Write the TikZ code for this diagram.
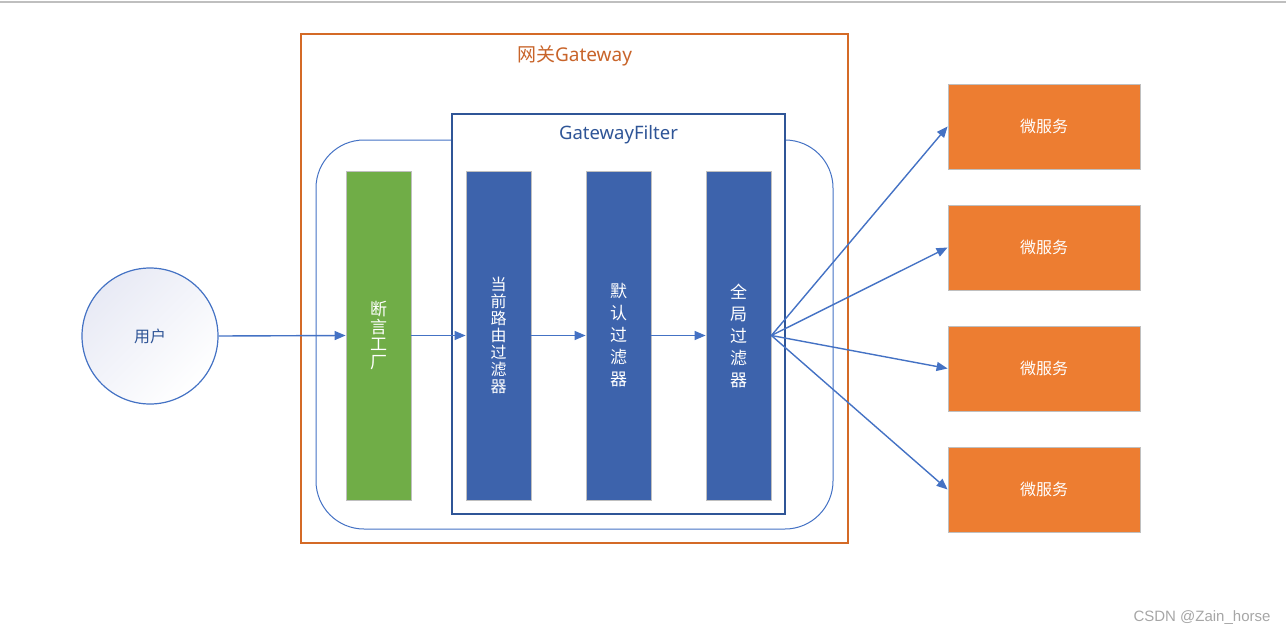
\documentclass[tikz,border=0pt]{standalone}
\usepackage{fontspec}
\setmainfont{Noto Sans}
\newfontfamily\cjk{Noto Sans CJK SC}
\newfontfamily\wmfont{Liberation Sans}
\usetikzlibrary{arrows.meta}
\definecolor{arrowblue}{HTML}{4472C4}
\definecolor{darkblue}{HTML}{2F5597}
\definecolor{barblue}{HTML}{3D63AC}
\definecolor{bargreen}{HTML}{70AD47}
\definecolor{msorange}{HTML}{ED7D31}
\definecolor{gworange}{HTML}{D46A26}
\definecolor{gwtext}{HTML}{C8642A}
\definecolor{edgegray}{HTML}{BFBFBF}
\definecolor{wmgray}{HTML}{A6A6A6}
\definecolor{userfill}{HTML}{E8EAF5}
\tikzset{
  conn/.style={draw=arrowblue, line width=1.4pt, -{Triangle[length=11pt,width=9pt]}},
  barbox/.style={draw=edgegray, line width=0.8pt, minimum width=65pt, minimum height=329pt, inner sep=0pt, text=white, align=center},
  msbox/.style={draw=edgegray, line width=0.8pt, fill=msorange, minimum width=192pt, minimum height=85pt, inner sep=0pt, text=white, font=\cjk\fontsize{16}{18}\selectfont},
}
\begin{document}
\begin{tikzpicture}[x=1pt,y=-1pt]
\useasboundingbox (0,0) rectangle (1286,635);
\draw[edgegray, line width=1.6pt] (0,2) -- (1286,2);
% gateway outer box
\node[draw=gworange, line width=1.2pt, minimum width=547pt, minimum height=509pt, inner sep=0pt] (gw) at (574.5,288.5) {};
\node[text=gwtext, font=\fontsize{19}{22}\selectfont, inner sep=0pt] (gwtitle) at (574.5,56) {{\cjk 网关}Gateway};
% rounded pipeline
\node[draw=arrowblue, line width=1pt, rounded corners=48pt, minimum width=517pt, minimum height=389pt, inner sep=0pt] (pipe) at (574.5,334.5) {};
% GatewayFilter box
\node[draw=darkblue, fill=white, line width=1.2pt, minimum width=333pt, minimum height=400pt, inner sep=0pt] (gf) at (618.5,314) {};
\node[text=darkblue, font=\fontsize{18.5}{22}\selectfont, inner sep=0pt] (gftitle) at (618.5,134.5) {GatewayFilter};
% bars
\node[barbox, fill=bargreen, font=\cjk\fontsize{17}{17.5}\selectfont] (pred) at (378.5,335.5) {断\\言\\工\\厂};
\node[barbox, fill=barblue, font=\cjk\fontsize{16}{17}\selectfont] (route) at (498.5,335.5) {当\\前\\路\\由\\过\\滤\\器};
\node[barbox, fill=barblue, font=\cjk\fontsize{17}{22}\selectfont] (deflt) at (618.5,335.5) {默\\认\\过\\滤\\器};
\node[barbox, fill=barblue, font=\cjk\fontsize{17}{22}\selectfont] (global) at (738.5,335.5) {全\\局\\过\\滤\\器};
% user
\node[circle, draw=arrowblue, line width=1.2pt, minimum size=136pt, inner sep=0pt, top color=userfill, bottom color=white, shading angle=45, text=darkblue, font=\cjk\fontsize{16}{18}\selectfont] (user) at (150,336) {用户};
% microservices
\node[msbox] (ms1) at (1044,126.5) {微服务};
\node[msbox] (ms2) at (1044,247.5) {微服务};
\node[msbox] (ms3) at (1044,368.5) {微服务};
\node[msbox] (ms4) at (1044,489.5) {微服务};
% connectors
\draw[conn] (user.east) -- (pred.west);
\draw[conn] (pred.east) -- (route.west);
\draw[conn] (route.east) -- (deflt.west);
\draw[conn] (deflt.east) -- (global.west);
\draw[conn] (global.east) -- (ms1.west);
\draw[conn] (global.east) -- (ms2.west);
\draw[conn] (global.east) -- (ms3.west);
\draw[conn] (global.east) -- (ms4.west);
% watermark
\node[text=wmgray, font=\wmfont\fontsize{15}{17}\selectfont, inner sep=0pt] (wm) at (1202,618) {CSDN @Zain\_horse};
\end{tikzpicture}
\end{document}
